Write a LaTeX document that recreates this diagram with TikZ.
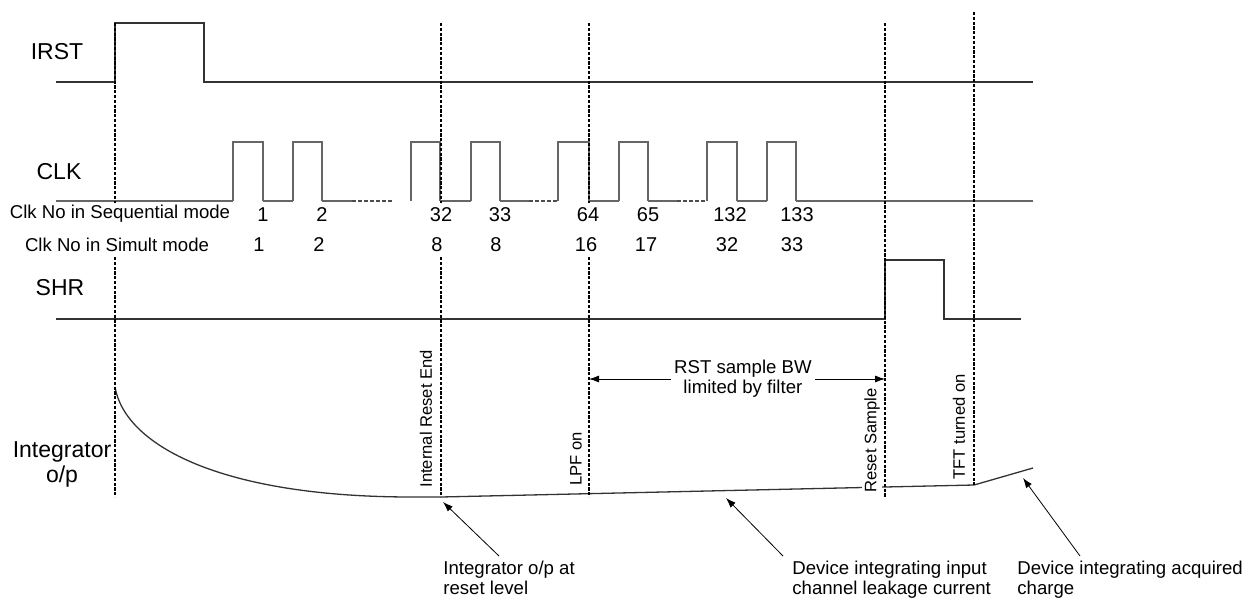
\documentclass[tikz,border=0pt]{standalone}
\usepackage{fontspec}
\setmainfont{Liberation Sans}
\usetikzlibrary{arrows.meta}

\begin{document}
\begin{tikzpicture}[
  x=0.5pt, y=-0.5pt,
  sig/.style={line width=0.65pt, black!80},
  clk/.style={line width=0.65pt, black!60},
  skip/.style={line width=0.65pt, black!70, dash pattern=on 2pt off 1pt},
  vline/.style={line width=0.8pt, dash pattern=on 1.6pt off 0.8pt},
  arr/.style={-{Latex[length=5pt,width=3.5pt]}, line width=0.4pt},
  dblarr/.style={{Latex[length=5pt,width=3.5pt]}-{Latex[length=5pt,width=3.5pt]}, line width=0.4pt},
  signame/.style={font=\fontsize{11.5}{12.5}\selectfont, align=center},
  num/.style={font=\fontsize{10}{12}\selectfont, inner sep=0pt},
  note/.style={font=\fontsize{9.3}{9.6}\selectfont, align=left, inner sep=0pt},
  vlabel/.style={font=\fontsize{8.3}{10}\selectfont, rotate=90, anchor=west,
                 fill=white, inner sep=1pt}
]
\useasboundingbox (0,0) rectangle (1251,599);

% signal names
\node[signame] (irst) at (57,52) {IRST};
\node[signame] (clk)  at (59,172) {CLK};
\node[signame] (shr)  at (60,288) {SHR};
\node[signame] (intg) at (62,464) {Integrator\\o/p};
\node[note] (seqmode) at (120,214) {Clk No in Sequential mode};
\node[note] (simmode) at (117,245) {Clk No in Simult mode};

% IRST and SHR
\draw[sig] (56,82) -- (115,82) -- (115,23) -- (204,23) -- (204,82) -- (1033,82);
\draw[sig] (56,319) -- (885,319) -- (885,260) -- (944,260) -- (944,319) -- (1021,319);

% CLK
\foreach \r/\f in {233/263, 293/322, 411/440, 471/500, 558/589, 619/648, 707/737, 767/796}
  \draw[clk] (\r,201) -- (\r,142) -- (\f,142) -- (\f,201);
\draw[clk] (56,201) -- (233,201);
\draw[clk] (263,201) -- (293,201) (322,201) -- (352,201);
\draw[clk] (440,201) -- (471,201) (500,201) -- (529,201);
\draw[clk] (589,201) -- (619,201) (648,201) -- (677,201);
\draw[clk] (737,201) -- (767,201) (796,201) -- (1033,201);
\draw[skip] (352,201) -- (392,201) (529,201) -- (558,201) (677,201) -- (707,201);

% clock numbers
\foreach \x/\n [count=\i] in {263/1, 322/2, 441/32, 500/33, 588/64, 648/65, 730/132, 797/133}
  \node[num] (seq\i) at (\x,215) {\n};
\foreach \x/\n [count=\i] in {259/1, 319/2, 437/8, 496/8, 586/16, 646/17, 727/32, 792/33}
  \node[num] (sim\i) at (\x,245) {\n};

% integrator output
\draw[sig] (115,387) .. controls (125,445) and (220,497) .. (412,497)
  -- (441,497) -- (885,487) -- (974,485) -- (1033,468);

% event labels
\node[vlabel] (ire) at (426,490) {Internal Reset End};
\node[vlabel] (lpf) at (576,488) {LPF on};
\node[vlabel] (rsm) at (872,495) {Reset Sample};
\node[vlabel] (tft) at (959,482) {TFT turned on};

% event lines
\draw[vline] (115,23) -- (115,203) (115,257) -- (115,497);
\draw[vline] (441,23) -- (441,203) (441,257) -- (441,497);
\draw[vline] (589,23) -- (589,203) (589,257) -- (589,497);
\draw[vline] (885,23) -- (885,497);
\draw[vline] (974,12) -- (974,485);

% RST sample bandwidth
\coordinate (bwl) at (589,379);
\coordinate (bwr) at (885,379);
\draw[dblarr] (bwl) -- node[pos=0.52, note, align=center,
  fill=white, inner sep=1.5pt, font=\fontsize{9.3}{10}\selectfont]
  (bw) {RST sample BW\\limited by filter} (bwr);

% notes
\node[note, anchor=north west] (lvl) at (443,561) {Integrator o/p at\\reset level};
\node[note, anchor=north west] (leak) at (792,561) {Device integrating input\\channel leakage current};
\node[note, anchor=north west] (acq) at (1017,561) {Device integrating acquired\\charge};
\coordinate (lvlt) at (499,556);  \coordinate (lvlh) at (443,502);
\coordinate (leakt) at (783,556); \coordinate (leakh) at (726,498);
\coordinate (acqt) at (1080,556); \coordinate (acqh) at (1023,478);
\draw[arr] (lvlt) -- (lvlh);
\draw[arr] (leakt) -- (leakh);
\draw[arr] (acqt) -- (acqh);
\end{tikzpicture}
\end{document}
